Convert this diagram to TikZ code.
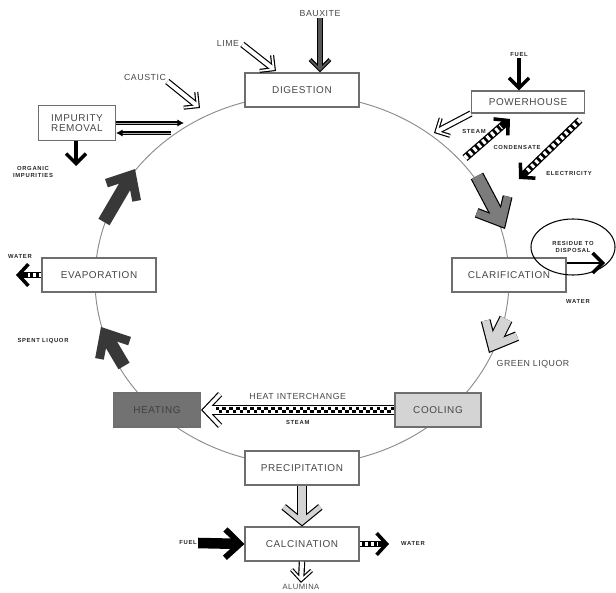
\documentclass[tikz,border=0pt]{standalone}
\usepackage{fontspec}
\setmainfont{Liberation Sans}
\newfontfamily\stagefont[LetterSpace=6]{Liberation Sans}
\newfontfamily\tagfont[LetterSpace=12]{Liberation Sans}
\usetikzlibrary{arrows.meta, positioning, calc, shapes.geometric}
\definecolor{RingGray}{HTML}{8C8C8C}
\definecolor{BoxLine}{HTML}{6E6E6E}
\definecolor{DarkFill}{HTML}{383838}
\definecolor{MidFill}{HTML}{7C7C7C}
\definecolor{PaleFill}{HTML}{D4D4D4}
\definecolor{HeatFill}{HTML}{727272}
\definecolor{LabelText}{HTML}{474747}
\tikzset{
  ring/.style={draw=RingGray, line width=0.8pt},
  stage/.style={draw=BoxLine, line width=0.9pt, fill=white, align=center, minimum width=3.42cm, minimum height=1.02cm, inner sep=2pt, font=\stagefont\fontsize{8.5}{9}\selectfont, text=LabelText},
  biglabel/.style={inner sep=1pt, font=\stagefont\fontsize{7.5}{8}\selectfont, text=LabelText},
  tag/.style={inner sep=1pt, align=center, font=\tagfont\bfseries\fontsize{5}{6}\selectfont, text=black!85},
  darkarrow/.style={draw=DarkFill, line width=11pt, -{Straight Barb[length=6mm, width=10.5mm, line width=7.5pt]}},
  greyarrow/.style={draw=black, line width=12pt, -{Straight Barb[length=6mm, width=10.5mm, line width=8.5pt]},
    postaction={draw=#1, line width=10pt, -{Straight Barb[length=6mm, width=10.5mm, line width=6.5pt]}, shorten >=1.5pt}},
  hollowarrow/.style={draw=black, line width=5.5pt, -{Straight Barb[length=3mm, width=6mm, line width=3.5pt]},
    postaction={draw=#1, line width=3.5pt, -{Straight Barb[length=3mm, width=6mm, line width=1.5pt]}, shorten >=1.4pt}},
  hollowarrow/.default=white,
  dropArrow/.style={draw=black, line width=8.5pt, -{Straight Barb[length=4.5mm, width=11mm, line width=6pt]},
    postaction={draw=PaleFill, line width=6.5pt, -{Straight Barb[length=4.5mm, width=11mm, line width=4pt]}, shorten >=1.3pt}},
  blackarrow/.style={draw=black, line width=#1, -{Straight Barb[length=3mm, width=6mm, line width=3pt]}},
  fuelarrow/.style={draw=black, line width=9pt, -{Straight Barb[length=4.5mm, width=8.5mm, line width=5pt]}},
  stripearrow/.style={draw=black, line width=#1, -{Straight Barb[length=3mm, width=6.5mm, line width=3pt]},
    postaction={draw=white, line width=#1-2.2pt, dash pattern=on 2.5pt off 2.5pt, -, shorten >=3.5mm}},
  heatarrow/.style={draw=black, line width=8.5pt, -{Straight Barb[length=4.5mm, width=9.5mm, line width=5pt]},
    postaction={draw=white, line width=6.5pt, -{Straight Barb[length=4.5mm, width=9.5mm, line width=3pt]}, shorten >=1.4pt},
    postaction={draw=black, line width=2.6pt, dash pattern=on 3pt off 3pt, -, shorten >=4.5mm, transform canvas={yshift=1.6pt}},
    postaction={draw=black, line width=2.6pt, dash pattern=on 3pt off 3pt, dash phase=3pt, -, shorten >=4.5mm, transform canvas={yshift=-1.6pt}}},
  impline/.style={draw=black, line width=0.9pt, double=gray!60, double distance=0.8pt, -{Latex[length=2mm, width=2.2mm]}}
}
\begin{document}
\begin{tikzpicture}[x=0.03cm, y=-0.03cm]
\useasboundingbox (0,0) rectangle (616,593);
% the liquor circuit
\draw[ring] (302,280) ellipse [x radius=6.21cm, y radius=5.55cm];

% process stages
\node[stage] (digestion) at (302,90) {DIGESTION};
\node[stage, minimum width=3.39cm, minimum height=0.66cm] (powerhouse) at (528,102) {POWERHOUSE};
\node[stage, minimum width=2.31cm, minimum height=1.05cm] (impurity) at (77,123) {IMPURITY\\REMOVAL};
\node[stage] (evaporation) at (99,275) {EVAPORATION};
\node[stage] (clarification) at (509,275) {CLARIFICATION};
\node[stage, fill=HeatFill, text=black!75, minimum width=2.61cm] (heating) at (157,410) {HEATING};
\node[stage, fill=PaleFill, minimum width=2.58cm] (cooling) at (438,410) {COOLING};
\node[stage] (precipitation) at (302,468) {PRECIPITATION};
\node[stage] (calcination) at (302,544) {CALCINATION};

% inputs and outputs
\node[biglabel] (bauxite) at (320,14) {BAUXITE};
\node[biglabel] (lime) at (228,43) {LIME};
\node[biglabel] (caustic) at (145,77) {CAUSTIC};
\node[tag] (fuelp) at (519,55) {FUEL};
\node[tag] (steam) at (474,131) {STEAM};
\node[tag] (condensate) at (517,147) {CONDENSATE};
\node[tag] (electricity) at (569,173) {ELECTRICITY};
\node[tag] (organic) at (33,172) {ORGANIC\\IMPURITIES};
\node[tag] (wevap) at (20,256) {WATER};
\node[tag] (spent) at (43,341) {SPENT LIQUOR};
\node[ellipse, draw=black, line width=0.9pt, minimum width=2.52cm, minimum height=1.68cm, tag] (residue) at (573,247) {RESIDUE TO\\DISPOSAL};
\node[tag] (wclar) at (578,301) {WATER};
\node[biglabel] (green) at (533,364) {GREEN LIQUOR};
\node[tag] (fuelc) at (188,543) {FUEL};
\node[tag] (wcalc) at (413,543) {WATER};
\node[biglabel, font=\stagefont\fontsize{6.5}{7}\selectfont] (alumina) at (301,587) {ALUMINA};

% free ends
\coordinate (limeend) at (276,71);
\coordinate (causticend) at (200,108);
\coordinate (ringA) at (184,123);
\coordinate (ringB) at (171,133);
\coordinate (orgend) at (76,166);
\coordinate (wevapend) at (16,275);
\coordinate (steamend) at (434,133);
\coordinate (condA) at (465,158);
\coordinate (condB) at (510,119);
\coordinate (elecA) at (580,120);
\coordinate (elecB) at (519,179);
\coordinate (resend) at (605,263);
\coordinate (wcalcend) at (389,544);
\coordinate (spentA) at (124,366);
\coordinate (spentB) at (101,327);
\coordinate (impA) at (104,222);
\coordinate (impB) at (135,169);
\coordinate (clarA) at (477,176);
\coordinate (clarB) at (505,229);
\coordinate (greenA) at (506,319);
\coordinate (greenB) at (489,353);

% flows
\draw[hollowarrow=MidFill!70!black] (bauxite) -- (bauxite |- digestion.north);
\draw[hollowarrow, shorten <=2pt] (lime.east) -- (limeend);
\draw[hollowarrow] (caustic.south east) -- (causticend);
\draw[impline] (impurity.east) -- (ringA);
\draw[impline] (ringB) -- (impurity.east |- ringB);
\draw[blackarrow=3.5pt] (impurity.south -| orgend) -- (orgend);
\draw[stripearrow=5pt] (evaporation.west) -- (wevapend);
\draw[blackarrow=3pt] (fuelp) -- (fuelp |- powerhouse.north);
\draw[hollowarrow] (powerhouse.south west) -- (steamend);
\draw[stripearrow=6.5pt] (condA) -- (condB);
\draw[stripearrow=6pt] (elecA) -- (elecB);
\draw[blackarrow=2pt] (clarification.east |- resend) -- (resend);
\draw[heatarrow] (cooling.west) -- node[above=4pt, biglabel]{HEAT INTERCHANGE} node[below=4pt, tag]{STEAM} (heating.east);
\draw[dropArrow] (precipitation) -- (calcination);
\draw[fuelarrow] (fuelc.east) -- (calcination.west);
\draw[stripearrow=5pt] (calcination.east) -- (wcalcend);
\draw[hollowarrow] (calcination.south) -- (alumina.north);

% arrows on the circuit
\draw[darkarrow] (spentA) -- (spentB);
\draw[darkarrow] (impA) -- (impB);
\draw[greyarrow=MidFill] (clarA) -- (clarB);
\draw[greyarrow=PaleFill] (greenA) -- (greenB);
\end{tikzpicture}
\end{document}
